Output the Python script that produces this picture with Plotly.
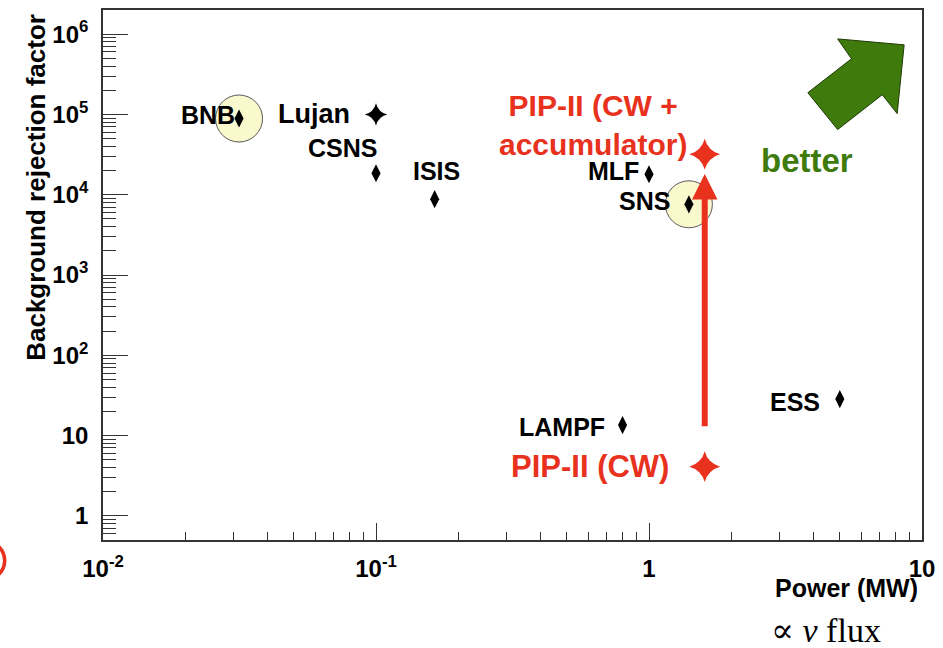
import numpy as np
import plotly.graph_objects as go

# ---------------- data ----------------
facilities = ["BNB", "Lujan", "CSNS", "ISIS", "MLF", "SNS", "LAMPF", "ESS"]
power_mw = [0.0315, 0.1, 0.1, 0.164, 1.0, 1.4, 0.8, 5.0]
rejection = [8.9e4, 1.0e5, 1.85e4, 8.8e3, 1.8e4, 7.6e3, 13.5, 28.5]

pip_labels = ["PIP-II (CW)", "PIP-II (CW +<br>accumulator)"]
pip_power = [1.6, 1.6]
pip_rejection = [4.1, 3.2e4]

highlighted = ["BNB", "SNS"]

x_tickvals = [0.01, 0.1, 1, 10]
x_ticktext = ["10<sup>-2</sup>", "10<sup>-1</sup>", "1", "10"]
y_tickvals = [1, 10, 100, 1e3, 1e4, 1e5, 1e6]
y_ticktext = ["1", "10", "10<sup>2</sup>", "10<sup>3</sup>", "10<sup>4</sup>",
              "10<sup>5</sup>", "10<sup>6</sup>"]

# ---------------- layout constants ----------------
W, H = 943, 648
ML, MR, MT, MB = 103, 15, 8, 108
PW, PH = W - ML - MR, H - MT - MB


def px_x(px):
    return (px - ML) / PW


def px_y(py):
    return (H - MB - py) / PH


RED = "#E8321E"
GREEN = "#3E7A0C"
FONT = "Liberation Sans, Arial, sans-serif"

# label placement (xanchor, xshift, yshift, size)
label_style = {
    "BNB": ("right", -2, 4, 25),
    "Lujan": ("right", -24, 0, 27),
    "CSNS": ("right", 3, 25, 25),
    "ISIS": ("center", 2, 28, 25),
    "MLF": ("right", -8, 3, 25),
    "SNS": ("right", -17, 3, 25),
    "LAMPF": ("right", -16, -2, 25),
    "ESS": ("right", -18, -3, 25),
}

fig = go.Figure()

# highlight circles
hx = [power_mw[facilities.index(f)] for f in highlighted]
hy = [rejection[facilities.index(f)] for f in highlighted]
fig.add_trace(go.Scatter(
    x=hx, y=hy, mode="markers", hoverinfo="skip",
    marker=dict(symbol="circle", size=47, color="#FAF8CD",
                line=dict(color="#5a5a5a", width=1)),
))

# black diamonds (all except Lujan)
dx = [p for f, p in zip(facilities, power_mw) if f != "Lujan"]
dy = [r for f, r in zip(facilities, rejection) if f != "Lujan"]
fig.add_trace(go.Scatter(
    x=dx, y=dy, mode="markers",
    marker=dict(symbol="diamond-tall", size=13, color="black"),
))
# Lujan star
li = facilities.index("Lujan")
fig.add_trace(go.Scatter(
    x=[power_mw[li]], y=[rejection[li]], mode="markers",
    marker=dict(symbol="star-diamond", size=16, color="black"),
))
# PIP-II stars
fig.add_trace(go.Scatter(
    x=pip_power, y=pip_rejection, mode="markers",
    marker=dict(symbol="star-diamond", size=22, color=RED),
))

annotations = []
for f, p, r in zip(facilities, power_mw, rejection):
    xa, xs, ys, sz = label_style[f]
    annotations.append(dict(
        x=np.log10(p), y=np.log10(r), xref="x", yref="y", text=f"<b>{f}</b>",
        showarrow=False, xanchor=xa, yanchor="middle", xshift=xs, yshift=ys,
        font=dict(family=FONT, size=sz, color="black"),
    ))

# PIP-II labels
annotations.append(dict(
    x=np.log10(pip_power[0]), y=np.log10(pip_rejection[0]), xref="x", yref="y",
    text=f"<b>{pip_labels[0]}</b>", showarrow=False, xanchor="right",
    yanchor="middle", xshift=-34, yshift=0,
    font=dict(family=FONT, size=31, color=RED),
))
annotations.append(dict(
    x=np.log10(pip_power[1]), y=np.log10(pip_rejection[1]), xref="x", yref="y",
    text=f"<b>{pip_labels[1]}</b>", showarrow=False, xanchor="right",
    yanchor="middle", xshift=-16, yshift=29, align="center",
    font=dict(family=FONT, size=30, color=RED),
))

# red upgrade arrow
annotations.append(dict(
    x=np.log10(pip_power[1]), y=np.log10(pip_rejection[1] / 1.77),
    ax=np.log10(pip_power[0]), ay=np.log10(pip_rejection[0] * 3.05),
    xref="x", yref="y", axref="x", ayref="y", text="",
    showarrow=True, arrowhead=2, arrowsize=0.85, arrowwidth=6, arrowcolor=RED,
))

# better
annotations.append(dict(
    x=px_x(812), y=px_y(159), xref="paper", yref="paper", text="<b>better</b>",
    showarrow=False, xanchor="center", yanchor="middle",
    font=dict(family=FONT, size=33, color=GREEN),
))

# axis titles
annotations.append(dict(
    x=px_x(36), y=px_y(186), xref="paper", yref="paper",
    text="<b>Background rejection factor</b>", textangle=-90, showarrow=False,
    xanchor="center", yanchor="middle",
    font=dict(family=FONT, size=26, color="black"),
))
annotations.append(dict(
    x=px_x(926), y=px_y(588), xref="paper", yref="paper",
    text="<b>Power (MW)</b>", showarrow=False, xanchor="right", yanchor="middle",
    font=dict(family=FONT, size=25, color="black"),
))
annotations.append(dict(
    x=px_x(831), y=px_y(631), xref="paper", yref="paper",
    text="∝ <i>ν</i> flux", showarrow=False, xanchor="center", yanchor="middle",
    font=dict(family="Liberation Serif, DejaVu Serif, serif", size=34, color="black"),
))

# green arrow polygon
gpts = [(843, 37), (910, 43), (903, 112), (888, 93), (843, 128), (813, 91), (857, 57)]
gpath = "M " + " L ".join(f"{px_x(a):.4f},{px_y(b):.4f}" for a, b in gpts) + " Z"
shapes = [
    dict(type="path", xref="paper", yref="paper", path=gpath,
         fillcolor=GREEN, line=dict(color="#1e3a06", width=1), layer="above"),
    dict(type="circle", xref="paper", yref="paper",
         x0=px_x(-36), x1=px_x(4), y0=px_y(580), y1=px_y(541),
         line=dict(color=RED, width=3.5), fillcolor="rgba(0,0,0,0)"),
]

minor_x = [m * 10.0 ** e for e in (-2, -1, 0) for m in range(2, 10)]
minor_y = [m * 10.0 ** e for e in (-1, 0, 1, 2, 3, 4, 5) for m in range(2, 10)
           if 0.5 <= m * 10.0 ** e < 1e6]

axis_common = dict(
    showline=True, linecolor="#333", linewidth=1.6, mirror=True,
    showgrid=False, zeroline=False, ticks="inside", tickcolor="#333",
    tickwidth=1.4, tickmode="array",
    tickfont=dict(family=FONT, size=24, color="black", weight="bold"),
)

fig.update_layout(
    width=W, height=H, autosize=False,
    margin=dict(l=ML, r=MR, t=MT, b=MB),
    paper_bgcolor="white", plot_bgcolor="white",
    showlegend=False,
    xaxis=dict(type="log", range=[-2, 1], tickvals=x_tickvals, ticktext=x_ticktext,
               ticklen=17, ticklabelstandoff=6,
               minor=dict(tickmode="array", tickvals=minor_x, ticks="inside",
                          ticklen=8, tickcolor="#333", tickwidth=1.2),
               **axis_common),
    yaxis=dict(type="log", range=[np.log10(0.5), np.log10(2e6)],
               tickvals=y_tickvals, ticktext=y_ticktext,
               ticklen=25, ticklabelstandoff=8,
               minor=dict(tickmode="array", tickvals=minor_y, ticks="inside",
                          ticklen=13, tickcolor="#333", tickwidth=1.2),
               **axis_common),
    annotations=annotations,
    shapes=shapes,
)

fig.write_html("out.html")
